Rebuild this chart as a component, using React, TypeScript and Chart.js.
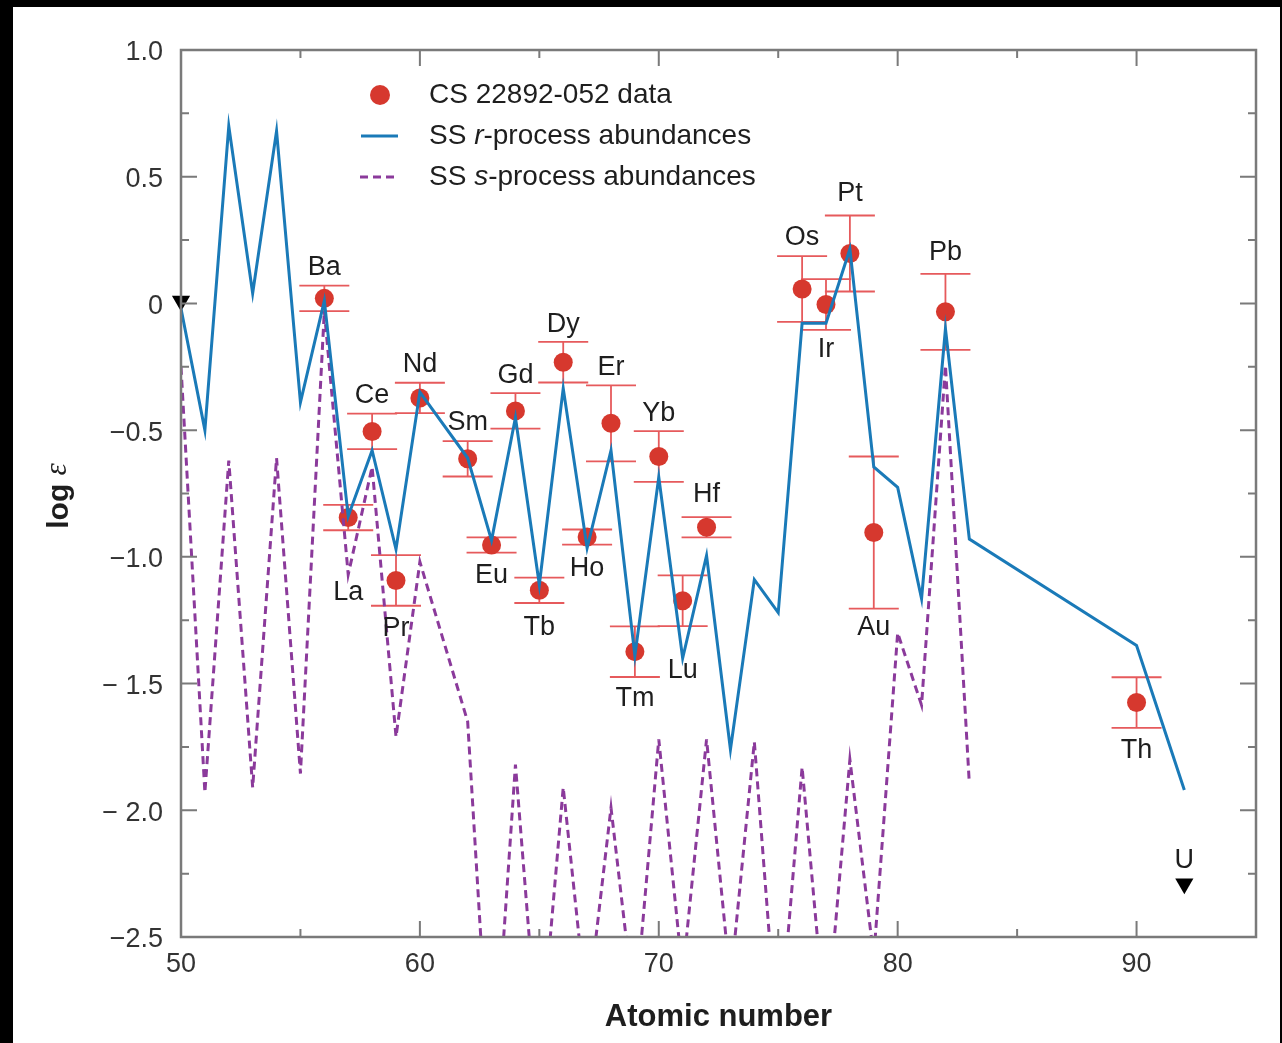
import React, { useEffect, useRef } from 'react';
import { Chart, registerables } from 'chart.js';

Chart.register(...registerables);

const W = 1282;
const H = 1043;
const FONT = '"Liberation Sans", Arial, Helvetica, sans-serif';

// Solar-system r-process abundances (atomic number, log eps)
const rZ = [50, 51, 52, 53, 54, 55, 56, 57, 58, 59, 60, 61, 62, 63, 64, 65, 66, 67, 68, 69, 70, 71, 72, 73, 74, 75, 76, 77, 78, 79, 80, 81, 82, 83, 90, 92];
const rVals = [-0.02, -0.5, 0.7, 0.04, 0.68, -0.39, 0.01, -0.84, -0.58, -0.97, -0.35, null, -0.61, -0.935, -0.45, -1.11, -0.335, -0.965, -0.58, -1.39, -0.685, -1.4, -0.995, -1.76, -1.09, -1.22, -0.078, -0.078, 0.215, -0.645, -0.726, -1.165, -0.1, -0.93, -1.35, -1.92];

// Solar-system s-process abundances
const sZ = [50, 51, 52, 53, 54, 55, 56, 57, 58, 59, 60, 61, 62, 63, 64, 65, 66, 67, 68, 69, 70, 71, 72, 73, 74, 75, 76, 77, 78, 79, 80, 81, 82, 83];
const sVals = [-0.25, -1.93, -0.62, -1.91, -0.61, -1.855, -0.03, -1.07, -0.645, -1.71, -1.02, null, -1.65, -3.2, -1.82, -3.0, -1.91, -2.8, -1.99, -2.8, -1.72, -2.65, -1.72, -2.68, -1.73, -2.95, -1.83, -2.88, -1.8, -2.58, -1.3, -1.585, -0.245, -1.895];

// CS 22892-052 observed abundances
const obsEl = ['Ba', 'La', 'Ce', 'Pr', 'Nd', 'Sm', 'Eu', 'Gd', 'Tb', 'Dy', 'Ho', 'Er', 'Tm', 'Yb', 'Lu', 'Hf', 'Os', 'Ir', 'Pt', 'Au', 'Pb', 'Th'];
const obsZ = [56, 57, 58, 59, 60, 62, 63, 64, 65, 66, 67, 68, 69, 70, 71, 72, 76, 77, 78, 79, 82, 90];
const obsVal = [0.02, -0.845, -0.505, -1.093, -0.373, -0.613, -0.953, -0.424, -1.132, -0.232, -0.922, -0.473, -1.374, -0.604, -1.173, -0.883, 0.057, -0.004, 0.197, -0.904, -0.033, -1.575];
const obsErr = [0.05, 0.05, 0.07, 0.1, 0.06, 0.07, 0.03, 0.07, 0.05, 0.08, 0.03, 0.15, 0.1, 0.1, 0.1, 0.04, 0.13, 0.1, 0.15, 0.3, 0.15, 0.1];

// Upper limits (Sn, U)
const limZ = [50, 92];
const limVal = [0.01, -2.29];

// Element labels (text, atomic number, log eps of label centre)
const labelText = ['Ba', 'La', 'Ce', 'Pr', 'Nd', 'Sm', 'Eu', 'Gd', 'Tb', 'Dy', 'Ho', 'Er', 'Tm', 'Yb', 'Lu', 'Hf', 'Os', 'Ir', 'Pt', 'Au', 'Pb', 'Th', 'U'];
const labelZ = [56, 57, 58, 59, 60, 62, 63, 64, 65, 66, 67, 68, 69, 70, 71, 72, 76, 77, 78, 79, 82, 90, 92];
const labelY = [0.142, -1.14, -0.363, -1.282, -0.242, -0.472, -1.073, -0.284, -1.277, -0.083, -1.047, -0.254, -1.558, -0.435, -1.45, -0.755, 0.259, -0.181, 0.433, -1.277, 0.202, -1.763, -2.2];

// Axis ticks
const xTickValues = [50, 60, 70, 80, 90];
const xTickLabels = ['50', '60', '70', '80', '90'];
const xMinorTicks = [55, 65, 75, 85, 95];
const yTickValues = [1.0, 0.5, 0, -0.5, -1.0, -1.5, -2.0, -2.5];
const yTickLabels = ['1.0', '0.5', '0', '\u22120.5', '\u22121.0', '\u2212 1.5', '\u2212 2.0', '\u22122.5'];
const yMinorTicks = [0.75, 0.25, -0.25, -0.75, -1.25, -1.75, -2.25];

const BLUE = '#1a7ab8';
const PURPLE = '#8b3a9b';
const RED = '#d6382e';
const ERR = '#e65a5c';
const AXIS = '#7a7a7a';
const TEXT = '#1e1e1e';

const decorPlugin = {
  id: 'decor',
  beforeDraw(chart: any) {
    const ctx = chart.ctx;
    ctx.save();
    ctx.fillStyle = '#000';
    ctx.fillRect(0, 0, W, H);
    ctx.fillStyle = '#fff';
    ctx.fillRect(13, 7, W - 15, H - 7);
    ctx.restore();
  },
  beforeDatasetsDraw(chart: any) {
    const ctx = chart.ctx;
    const xs = chart.scales.x;
    const ys = chart.scales.y;
    ctx.save();
    ctx.strokeStyle = ERR;
    ctx.lineWidth = 1.8;
    for (let i = 0; i < obsZ.length; i++) {
      const px = xs.getPixelForValue(obsZ[i]);
      const top = ys.getPixelForValue(obsVal[i] + obsErr[i]);
      const bot = ys.getPixelForValue(obsVal[i] - obsErr[i]);
      ctx.beginPath();
      ctx.moveTo(px, top);
      ctx.lineTo(px, bot);
      ctx.moveTo(px - 25, top);
      ctx.lineTo(px + 25, top);
      ctx.moveTo(px - 25, bot);
      ctx.lineTo(px + 25, bot);
      ctx.stroke();
    }
    ctx.restore();
  },
  afterDatasetsDraw(chart: any) {
    const ctx = chart.ctx;
    const xs = chart.scales.x;
    const ys = chart.scales.y;
    const a = chart.chartArea;
    ctx.save();
    // frame
    ctx.strokeStyle = AXIS;
    ctx.lineWidth = 2.5;
    ctx.strokeRect(a.left, a.top, a.right - a.left, a.bottom - a.top);
    // inward ticks
    ctx.lineWidth = 2;
    const tick = (vals: number[], len: number, axis: 'x' | 'y') => {
      ctx.beginPath();
      for (const v of vals) {
        if (axis === 'x') {
          const p = xs.getPixelForValue(v);
          ctx.moveTo(p, a.bottom);
          ctx.lineTo(p, a.bottom - len);
          ctx.moveTo(p, a.top);
          ctx.lineTo(p, a.top + len);
        } else {
          const p = ys.getPixelForValue(v);
          ctx.moveTo(a.left, p);
          ctx.lineTo(a.left + len, p);
          ctx.moveTo(a.right, p);
          ctx.lineTo(a.right - len, p);
        }
      }
      ctx.stroke();
    };
    tick(xTickValues, 16, 'x');
    tick(xMinorTicks, 8, 'x');
    tick(yTickValues, 16, 'y');
    tick(yMinorTicks, 8, 'y');

    // element labels
    ctx.fillStyle = TEXT;
    ctx.font = `27px ${FONT}`;
    ctx.textAlign = 'center';
    ctx.textBaseline = 'middle';
    for (let i = 0; i < labelText.length; i++) {
      ctx.fillText(labelText[i], xs.getPixelForValue(labelZ[i]), ys.getPixelForValue(labelY[i]));
    }

    // legend
    const tx = 429;
    const rows = [95, 136, 177];
    ctx.fillStyle = RED;
    ctx.beginPath();
    ctx.arc(380, rows[0], 10, 0, Math.PI * 2);
    ctx.fill();
    ctx.strokeStyle = BLUE;
    ctx.lineWidth = 3;
    ctx.beginPath();
    ctx.moveTo(361, rows[1]);
    ctx.lineTo(398, rows[1]);
    ctx.stroke();
    ctx.strokeStyle = PURPLE;
    ctx.setLineDash([8, 5]);
    ctx.beginPath();
    ctx.moveTo(360, rows[2]);
    ctx.lineTo(398, rows[2]);
    ctx.stroke();
    ctx.setLineDash([]);

    ctx.fillStyle = TEXT;
    ctx.textAlign = 'left';
    const drawSegs = (segs: [string, string][], x: number, y: number) => {
      let cx = x;
      for (const [txt, style] of segs) {
        ctx.font = `${style} 28px ${FONT}`;
        ctx.fillText(txt, cx, y);
        cx += ctx.measureText(txt).width;
      }
    };
    drawSegs([['CS 22892-052 data', 'normal']], tx, rows[0]);
    drawSegs([['SS ', 'normal'], ['r', 'italic'], ['-process abundances', 'normal']], tx, rows[1]);
    drawSegs([['SS ', 'normal'], ['s', 'italic'], ['-process abundances', 'normal']], tx, rows[2]);

    // x axis title
    ctx.textAlign = 'center';
    ctx.font = `bold 31px ${FONT}`;
    ctx.fillText('Atomic number', (a.left + a.right) / 2, 1017);

    // y axis title
    ctx.save();
    ctx.translate(60, 496);
    ctx.rotate(-Math.PI / 2);
    ctx.textAlign = 'left';
    ctx.font = `bold 30px ${FONT}`;
    const w1 = ctx.measureText('log ').width;
    ctx.font = `italic 31px "Liberation Serif", "DejaVu Serif", serif`;
    const w2 = ctx.measureText('\u03b5').width;
    const sx = -(w1 + w2) / 2;
    ctx.font = `bold 30px ${FONT}`;
    ctx.fillText('log ', sx, 0);
    ctx.font = `italic 31px "Liberation Serif", "DejaVu Serif", serif`;
    ctx.fillText('\u03b5', sx + w1, -2);
    ctx.restore();

    ctx.restore();
  },
};

export default function App() {
  const ref = useRef<HTMLCanvasElement | null>(null);

  useEffect(() => {
    const canvas = ref.current;
    if (!canvas) return;
    const chart = new Chart(canvas, {
      type: 'scatter',
      data: {
        datasets: [
          {
            label: 'SS r-process abundances',
            data: rZ.map((z, i) => ({ x: z, y: rVals[i] })),
            showLine: true,
            spanGaps: true,
            borderColor: BLUE,
            borderWidth: 3,
            pointRadius: 0,
            tension: 0,
            order: 0,
          } as any,
          {
            label: 'SS s-process abundances',
            data: sZ.map((z, i) => ({ x: z, y: sVals[i] })),
            showLine: true,
            spanGaps: true,
            borderColor: PURPLE,
            borderWidth: 3,
            borderDash: [8, 5],
            pointRadius: 0,
            tension: 0,
            order: 1,
          } as any,
          {
            label: 'CS 22892-052 data',
            data: obsZ.map((z, i) => ({ x: z, y: obsVal[i] })),
            pointRadius: 9.5,
            pointBackgroundColor: RED,
            pointBorderWidth: 0,
            borderWidth: 0,
            order: 2,
          } as any,
          {
            label: 'Upper limits',
            data: limZ.map((z, i) => ({ x: z, y: limVal[i] })),
            pointStyle: 'triangle',
            pointRotation: 180,
            pointRadius: 10.5,
            pointBackgroundColor: '#000',
            pointBorderWidth: 0,
            borderWidth: 0,
            clip: false,
            order: 3,
          } as any,
        ],
      },
      options: {
        responsive: false,
        animation: false,
        events: [],
        layout: { padding: { left: 0, top: 50, right: W - 1256, bottom: 0 } },
        plugins: { legend: { display: false }, tooltip: { enabled: false } },
        scales: {
          x: {
            type: 'linear',
            min: 50,
            max: 95,
            grid: { display: false, drawTicks: false },
            border: { display: false },
            afterBuildTicks: (s: any) => {
              s.ticks = xTickValues.map((v) => ({ value: v }));
            },
            afterFit: (s: any) => {
              s.height = H - 937;
            },
            ticks: {
              autoSkip: false,
              maxRotation: 0,
              padding: 11,
              color: '#333',
              font: { family: FONT, size: 27 },
              callback: (v: any) => {
                const i = xTickValues.indexOf(Number(v));
                return i >= 0 ? xTickLabels[i] : '';
              },
            },
          },
          y: {
            type: 'linear',
            min: -2.5,
            max: 1.0,
            grid: { display: false, drawTicks: false },
            border: { display: false },
            afterBuildTicks: (s: any) => {
              s.ticks = yTickValues.map((v) => ({ value: v }));
            },
            afterFit: (s: any) => {
              s.width = 181;
            },
            ticks: {
              autoSkip: false,
              padding: 18,
              labelOffset: 3,
              color: '#333',
              font: { family: FONT, size: 27 },
              callback: (v: any) => {
                const i = yTickValues.findIndex((t) => Math.abs(t - Number(v)) < 1e-6);
                return i >= 0 ? yTickLabels[i] : '';
              },
            },
          },
        },
      },
      plugins: [decorPlugin],
    } as any);
    return () => chart.destroy();
  }, []);

  return (
    <div style={{ position: 'fixed', left: 0, top: 0, width: W, height: H, background: '#000' }}>
      <canvas ref={ref} width={W} height={H} style={{ display: 'block', width: W, height: H }} />
    </div>
  );
}
